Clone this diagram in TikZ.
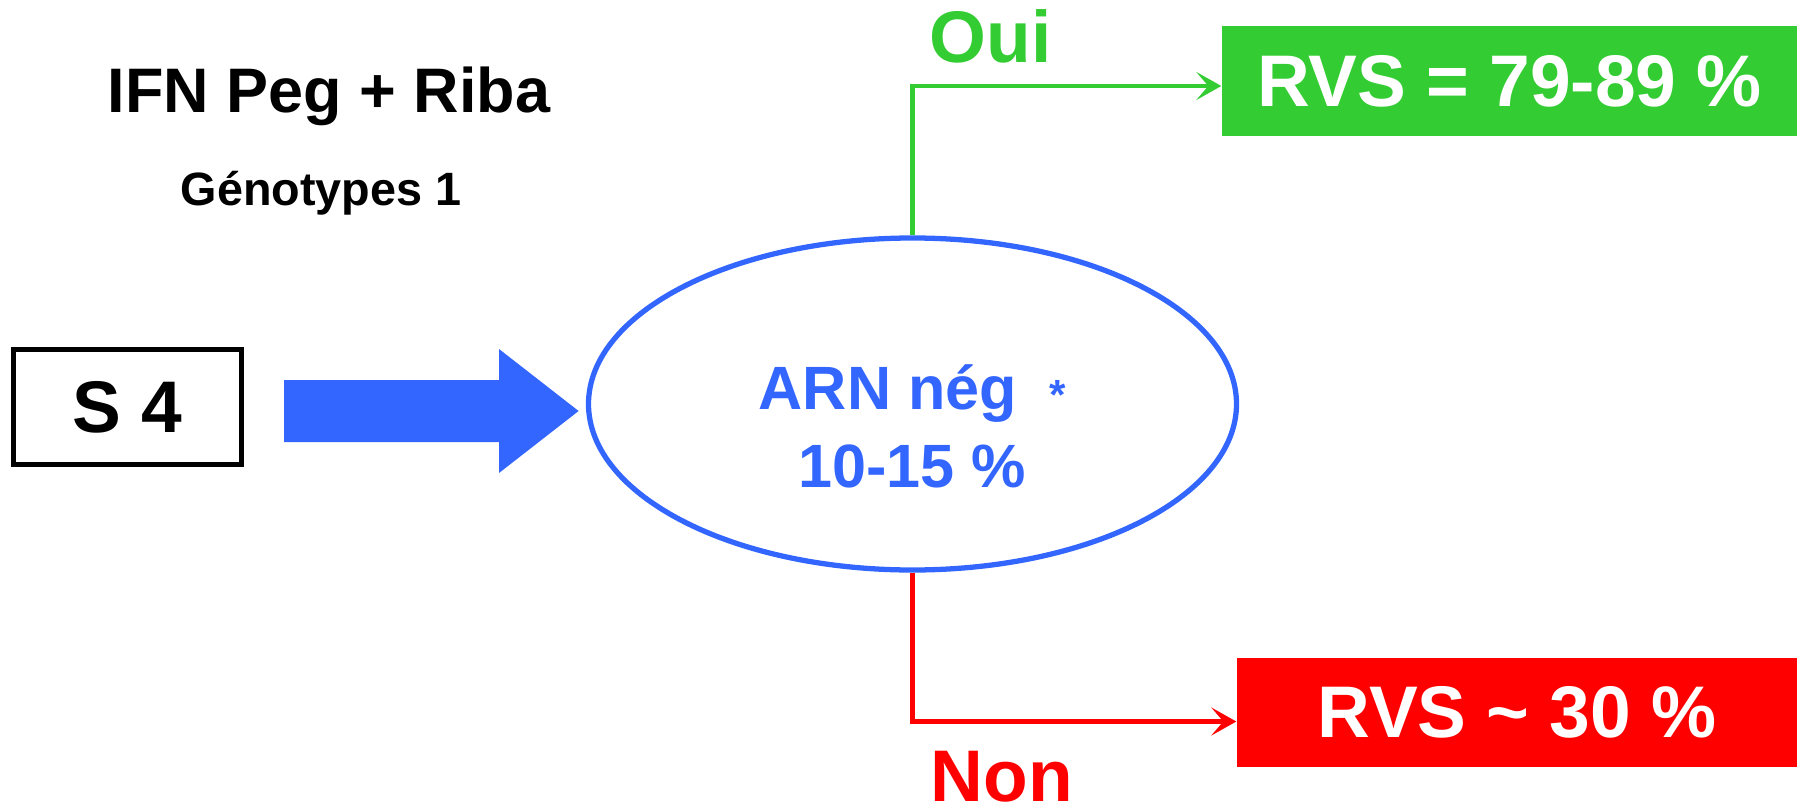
\documentclass[tikz,border=0pt]{standalone}
\usepackage{fontspec}
\setmainfont{Liberation Sans}
\usepackage{xcolor}
\usetikzlibrary{arrows.meta,positioning,shapes.geometric,calc}

\definecolor{rnablue}{HTML}{3366FF}
\definecolor{yesgreen}{HTML}{33CC33}
\definecolor{nored}{HTML}{FF0000}

\begin{document}
\begin{tikzpicture}[
  >={Stealth[length=0.25cm, width=0.28cm, inset=0.12cm]},
  bigfont/.style={font=\fontsize{20.8}{25}\selectfont\bfseries},
  midfont/.style={font=\fontsize{17.4}{22.2}\selectfont\bfseries},
  result/.style={rectangle, inner sep=0pt, text=white, bigfont},
  branch/.style={line width=1.4pt, ->},
]
  \useasboundingbox (0,0) rectangle (17.99,8.02);

  % heading
  \node[anchor=base, font=\fontsize{17.9}{21}\selectfont\bfseries] (title) at (3.29,6.89) {IFN Peg + Riba};
  \node[anchor=base, font=\fontsize{13.3}{16}\selectfont\bfseries] (geno) at (3.21,5.97) {Génotypes 1};

  % week 4 box and the big arrow
  \node[draw, line width=1.5pt, minimum width=2.28cm, minimum height=1.15cm, inner sep=0pt, bigfont] (s4) at (1.275,3.95) {S 4};
  \fill[rnablue] (2.84,4.22) -- (4.99,4.22) -- (4.99,4.53) -- (5.786,3.91)
    -- (4.99,3.29) -- (4.99,3.60) -- (2.84,3.60) -- cycle;

  % RNA test
  \node[ellipse, draw=rnablue, line width=1.5pt, minimum width=6.48cm, minimum height=3.32cm] (ell) at (9.125,3.98) {};
  \node[midfont, text=rnablue, align=center] (rna) at ([yshift=-0.22cm]ell.center)
    {ARN nég\hspace{0.33cm}{\fontsize{12}{14}\selectfont *}\\10-15 \%};

  % outcomes
  \node[result, fill=yesgreen, minimum width=5.75cm, minimum height=1.10cm] (oui) at (15.095,7.21) {RVS = 79-89 \%};
  \node[result, fill=nored, minimum width=5.60cm, minimum height=1.09cm] (non) at (15.17,0.895) {RVS \textasciitilde{} 30 \%};

  % branches
  \draw[branch, yesgreen] (ell.north) |- ([yshift=-0.05cm]oui.west);
  \draw[branch, nored] (ell.south) |- ([yshift=-0.09cm]non.west);
  \node[anchor=base west, inner sep=0pt, bigfont, text=yesgreen] (ouilbl) at (9.29,7.39) {Oui};
  \node[anchor=base west, inner sep=0pt, bigfont, text=nored] (nonlbl) at (9.30,0.01) {Non};
\end{tikzpicture}
\end{document}
